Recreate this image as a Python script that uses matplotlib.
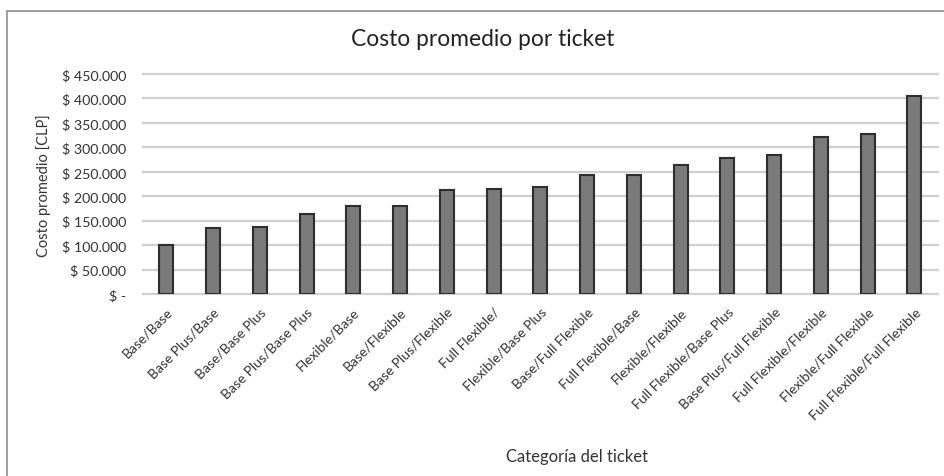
import matplotlib
matplotlib.use("Agg")
import matplotlib.pyplot as plt
from matplotlib.ticker import FuncFormatter
from matplotlib.patches import Rectangle
from matplotlib.transforms import ScaledTranslation

categorias = ["Base/Base", "Base Plus/Base", "Base/Base Plus", "Base Plus/Base Plus",
              "Flexible/Base", "Base/Flexible", "Base Plus/Flexible", "Full Flexible/",
              "Flexible/Base Plus", "Base/Full Flexible", "Full Flexible/Base",
              "Flexible/Flexible", "Full Flexible/Base Plus", "Base Plus/Full Flexible",
              "Full Flexible/Flexible", "Flexible/Full Flexible", "Full Flexible/Full Flexible"]
costo = [100000, 134000, 138000, 163000, 180000, 180000, 212000, 215000,
         218000, 243000, 243000, 264000, 278000, 284000, 321000, 327000, 404000]
y_ticks = [0, 50000, 100000, 150000, 200000, 250000, 300000, 350000, 400000, 450000]

plt.rcParams['font.family'] = ['Lato', 'DejaVu Sans']

fig = plt.figure(figsize=(9.44, 4.77), dpi=100)
ax = fig.add_axes([0.1515, 0.3816, 0.842, 0.4612])

# gridlines behind the bars
for v in y_ticks:
    ax.axhline(v, color='#d0d0d0', linewidth=1.6, zorder=0, clip_on=False)

ax.bar(range(len(categorias)), costo, width=0.3, color='#7a7a7a',
       edgecolor='#2e2e2e', linewidth=1.5, zorder=2)

ax.set_xlim(-0.5, len(categorias) - 0.5)
ax.set_ylim(0, 450000)
ax.set_yticks(y_ticks)


def pesos(v, pos):
    if v == 0:
        return "$ -"
    return "$ " + f"{int(v):,}".replace(",", ".")


ax.yaxis.set_major_formatter(FuncFormatter(pesos))
ax.set_xticks(range(len(categorias)))
ax.set_xticklabels(categorias, rotation=45, ha='right', va='center',
                   rotation_mode='anchor', fontsize=10, color='#333333')
ax.tick_params(axis='y', labelsize=10.3, labelcolor='#333333', length=0, pad=12)
ax.tick_params(axis='x', length=0, pad=11)
# nudge the rotated labels a little to the right
offset = ScaledTranslation(4 / 100, 0, fig.dpi_scale_trans)
for lbl in ax.get_xticklabels():
    lbl.set_transform(lbl.get_transform() + offset)
for s in ax.spines.values():
    s.set_visible(False)

fig.text(0.046, 0.61, "Costo promedio [CLP]", fontsize=10.5, color='#333333',
         rotation=90, ha='center', va='center')
fig.text(0.611, 0.042, "Categoría del ticket", fontsize=12, color='#333333',
         ha='center', va='center')
fig.text(0.511, 0.918, "Costo promedio por ticket", fontsize=16.4, color='#222222',
         ha='center', va='center')

# chart frame
fig.patches.append(Rectangle((0.0075, -0.05), 1.1, 1.025, transform=fig.transFigure,
                             fill=False, edgecolor='#8c8c8c', linewidth=1.2))

fig.savefig("out.png", dpi=100)
